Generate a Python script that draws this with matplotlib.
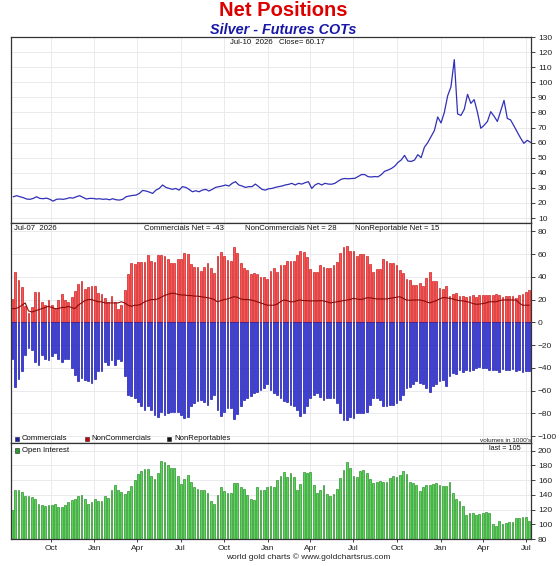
import matplotlib
matplotlib.use('Agg')
import matplotlib.pyplot as plt
import matplotlib.dates as mdates
from matplotlib.patches import Rectangle
import pandas as pd

plt.rcParams['font.family'] = ['Liberation Sans', 'DejaVu Sans']

# ---------------- data ----------------
cot_dates = pd.date_range('2023-07-11', periods=157, freq='7D')
price_dates = pd.date_range('2023-07-14', periods=157, freq='7D')

noncommercials = [
    20.5, 44, 37, 31, 14, 8, 13, 27, 27, 18,
    15, 20, 15, 12, 20, 25, 20, 17.5, 22, 27.5,
    34, 36, 29, 31, 32, 32, 26, 25, 21, 17.5,
    23, 17.5, 12, 15, 28, 42, 52, 51, 53, 53,
    53, 59, 54, 53, 59, 59, 58, 56, 52, 52,
    56, 56, 61, 60, 51, 49, 49, 45, 49, 52.5,
    47.5, 43, 58, 62, 58, 55, 54, 66, 61, 52.5,
    47.5, 46, 42, 43, 42, 40, 40, 38, 45.5, 47.5,
    44.5, 50, 50, 54, 53.5, 54, 59, 63, 61.5, 57,
    47, 44.5, 44.5, 50, 49, 47.5,
    47.5, 50, 53, 61, 66, 67, 63, 63, 58, 60,
    60, 58.5, 51, 44.5, 46.5, 46.5, 56, 54, 52, 52.5,
    50, 46, 43, 38, 37, 33, 33, 34.5, 32, 39,
    44.5, 36, 36, 30.5, 29, 32, 23.5, 24.6, 25.5, 23.5,
    23.5, 22.5, 23, 24, 22.5, 24, 24, 24, 24, 24,
    25, 24, 22.5, 23.5, 23, 23.5, 21.7, 24, 24.6, 27,
    28]

commercials = [
    -32, -57, -50, -43, -29, -23, -24, -35, -37.5, -29,
    -32, -33, -30, -27, -32, -35, -32, -32, -40, -46,
    -52, -49, -51, -52, -53, -50, -43, -43, -35, -37.5,
    -33, -37.5, -32, -34, -47, -64, -64.5, -67, -70, -74,
    -77, -74, -77, -81.5, -83, -78.5, -81.5, -80, -78.5, -78.5,
    -78.5, -81.5, -84.5, -83, -74, -71, -69, -68, -70, -73,
    -67.5, -64, -77, -82, -78.5, -75, -75, -85, -81, -74,
    -68, -67, -64.5, -62.5, -61, -59.5, -57.5, -54.5, -59.5, -62.5,
    -64, -67, -69, -70, -73, -74, -77, -82, -80, -74,
    -67, -64, -62.5, -65.5, -68, -67,
    -67, -67, -71, -80, -86, -86, -83, -84.5, -80, -80,
    -80, -78.5, -73, -67, -67, -68, -74, -73.6, -73, -73,
    -71, -68, -64, -58, -56.6, -54.5, -52, -53, -54.5, -58,
    -61, -55.7, -54.5, -52, -50.7, -56, -47, -45, -45.7, -42,
    -43.4, -42, -42.8, -42, -40.5, -39, -40.5, -40, -42, -42,
    -42, -43.4, -41, -42, -42, -41, -42.5, -42, -43.4, -42.5,
    -43]

nonreportables = [
    12, 12, 13, 15, 17, 10, 9, 10, 11, 12,
    13, 14, 13, 12, 12, 13, 13, 14, 13, 12,
    15, 17, 19, 20, 20, 19, 18, 18, 17, 17,
    17, 17, 17, 18, 17, 15, 14, 15, 15, 16,
    18, 19, 20, 20, 20.5, 22, 23.5, 24.5, 25.5, 25.5,
    24.5, 24, 24, 23.5, 23.5, 23, 23, 22.5, 22, 21.5,
    21, 20, 18, 19, 20, 20.5, 21.5, 22.5, 22, 20.5,
    20, 20, 19.6, 19, 18, 17, 16, 15, 15, 15,
    16, 18, 19.6, 19, 18, 18, 19, 19.6, 19, 19,
    18.8, 18.8, 18.8, 19, 18.8, 18,
    17, 17.5, 18, 18.5, 19, 19.5, 20, 21, 20.5, 20,
    20.5, 21.5, 21.5, 21, 20.5, 20.5, 20.5, 20.5, 21, 21.5,
    22, 22.5, 21, 19.5, 19.4, 19.5, 19.6, 19.6, 19, 18,
    17, 18, 19, 20.5, 21.7, 21.5, 21, 20.5, 19.6, 19,
    18.8, 18.2, 17.6, 16.5, 15.8, 16, 16.4, 17, 18, 18,
    18, 19, 19.6, 19.6, 19.6, 19.6, 19.6, 17, 15, 15,
    15]

open_interest = [
    120, 147, 147, 144, 138, 138, 137, 134, 128, 126,
    125, 126, 126, 127, 124, 124, 126, 130, 133, 134,
    138, 140, 134, 128, 130, 134, 132, 132, 138, 136,
    146, 153, 147, 144, 141, 145, 152, 160, 168, 173,
    175, 175, 166, 162, 170, 186, 185, 180, 176, 177,
    166, 155, 162, 167, 157, 150, 148, 147, 147, 142,
    131, 128, 140, 150, 145, 143, 142, 156, 156, 151,
    148, 140, 135, 133, 151, 147, 146, 151, 152, 150,
    160, 165, 171, 164, 170, 164, 146, 155, 171, 170,
    171, 154, 143, 147, 153, 141, 138, 141, 148, 163,
    174, 185, 176, 165, 164, 172, 174, 170, 161, 156,
    158, 159, 157, 157, 163, 166, 164, 167, 172, 168,
    158, 156, 153, 145, 150, 154, 153, 155, 156, 153,
    152, 152, 157, 143, 135, 131, 125, 113, 115, 115,
    112, 114, 115, 117, 115, 101, 97, 104, 101, 102,
    103, 103, 108, 109, 110, 110, 105]

price = [
    24.1, 24.8, 24.1, 23.5, 22.6, 22.4, 23, 24.1, 23, 22.8,
    23.2, 22.4, 21.2, 22.4, 22.6, 22.4, 22.8, 23.5, 23.2, 24.1,
    24.8, 23.7, 22.6, 23, 23, 22.6, 22.8, 22.4, 22.6, 22.1,
    22.8, 22.1, 21.9, 22.4, 24.1, 24.6, 25, 25.2, 26.3, 28.3,
    27.9, 27.2, 26.3, 28.5, 29.6, 31.9, 30.3, 29.6, 29, 29.6,
    28.5, 30.8, 30.3, 29, 27.4, 28.1, 27.4, 28.5, 29, 27.9,
    29, 30.3, 30.8, 31.2, 31.9, 31.2, 33, 34.1, 31.9, 31.2,
    30.3, 30.8, 30.8, 32.5, 30.8, 29, 28.5, 29.4, 29.6, 30.3,
    30.8, 31.2, 31.9, 32.3, 33, 31.9, 33, 32.5, 33.4, 34.1,
    29.6, 31.9, 33, 31.9, 33, 32.5,
    32.4, 33, 34.5, 35.8, 36.2, 36, 36.2, 36.3, 37.5, 38.8,
    38.8, 37.4, 37.2, 37.5, 37.3, 38.8, 41, 41.8, 42.8, 44.3,
    46.8, 48.5, 51.5, 47.8, 47.5, 48.4, 52, 50, 57, 60,
    64, 68, 77, 73, 80, 91, 97, 115, 79, 78,
    82, 92, 86, 88.5, 80, 69.5, 71.5, 74, 80.5, 77.5,
    74, 81, 88, 76, 75, 71, 67, 63, 59.5, 61.5,
    60.17]

top_ticks = list(range(10, 131, 10))
mid_ticks = list(range(-100, 81, 20))
bot_ticks = list(range(80, 201, 20))

# ---------------- layout ----------------
W_PX, H_PX = 560, 566
fig = plt.figure(figsize=(W_PX / 100, H_PX / 100), dpi=100)

L = 11 / W_PX
R = 531 / W_PX
def ax_rect(top_px, bot_px):
    return [L, 1 - bot_px / H_PX, R - L, (bot_px - top_px) / H_PX]

ax1 = fig.add_axes(ax_rect(37, 223.3))
ax2 = fig.add_axes(ax_rect(223.3, 443.3))
ax3 = fig.add_axes(ax_rect(443.3, 539))

xmin = pd.Timestamp('2023-07-09')
xmax = pd.Timestamp('2026-07-11')
grid_c = '#e9e9ee'
for ax in (ax1, ax2, ax3):
    ax.set_xlim(xmin, xmax)
    ax.xaxis.set_major_locator(mdates.MonthLocator(bymonth=[1, 4, 7, 10]))
    ax.xaxis.set_major_formatter(mdates.DateFormatter('%b'))
    ax.yaxis.tick_right()
    ax.grid(True, color=grid_c, lw=0.7)
    ax.set_axisbelow(True)
    ax.tick_params(axis='y', labelsize=6, length=3, width=0.6, pad=2, colors='#222')
    ax.tick_params(axis='x', labelsize=6, length=2, width=0.6, pad=2, colors='#222')
    for s in ax.spines.values():
        s.set_color('#333')
        s.set_linewidth(0.9)

ax1.tick_params(axis='x', labelbottom=False, length=0)
ax2.tick_params(axis='x', labelbottom=False, length=0)

# top panel: price
ax1.plot(price_dates, price, color='#3030b8', lw=0.9)
ax1.set_ylim(6.5, 130)
ax1.set_yticks(top_ticks)

# middle panel: net positions
bw = 3.8
ax2.bar(cot_dates, noncommercials, width=bw, color='#ff5252', edgecolor='#c00000', lw=0.4)
ax2.bar(cot_dates, commercials, width=bw, color='#3c3ce8', edgecolor='#000090', lw=0.4)
ax2.plot(cot_dates, nonreportables, color='#8a0a0a', lw=0.8)
ax2.set_ylim(-106.4, 87)
ax2.set_yticks(mid_ticks)

# bottom panel: open interest
ax3.bar(cot_dates, open_interest, width=bw, color='#52d852', edgecolor='#137a13', lw=0.4)
ax3.set_ylim(80, 210)
ax3.set_yticks(bot_ticks)

# ---------------- texts ----------------
def fx(px):
    return px / W_PX
def fy(py):
    return 1 - py / H_PX

fig.text(fx(283), fy(11), 'Net Positions', color='#dd0000', fontsize=14.5,
         fontweight='bold', ha='center', va='center')
fig.text(fx(283), fy(30.5), 'Silver - Futures COTs', color='#1818a8', fontsize=10.4,
         fontweight='bold', style='italic', ha='center', va='center')
fig.text(fx(277), fy(43), 'Jul-10  2026   Close= 60.17', fontsize=5.6,
         ha='center', va='center', color='#111')

fig.text(fx(14), fy(228.5), 'Jul-07  2026', fontsize=5.6, ha='left', va='center', color='#111')
fig.text(fx(144), fy(228.5), 'Commercials Net = -43', fontsize=5.6, ha='left', va='center', color='#111')
fig.text(fx(245), fy(228.5), 'NonCommercials Net = 28', fontsize=5.6, ha='left', va='center', color='#111')
fig.text(fx(355), fy(228.5), 'NonReportable Net = 15', fontsize=5.6, ha='left', va='center', color='#111')

def legend_item(x_px, y_px, color, label):
    fig.patches.append(Rectangle((fx(x_px), fy(y_px + 2.2)), 4.4 / W_PX, 4.4 / H_PX,
                                 transform=fig.transFigure, facecolor=color,
                                 edgecolor='#222', lw=0.4))
    fig.text(fx(x_px + 7), fy(y_px), label, fontsize=5.6, ha='left', va='center', color='#111')

legend_item(14.5, 439, '#1a1ab0', 'Commercials')
legend_item(84.5, 439, '#cc0000', 'NonCommercials')
legend_item(167, 439, '#111111', 'NonReportables')
legend_item(14.5, 450.5, '#2a9a2a', 'Open Interest')

fig.text(fx(531), fy(440.5), "volumes in 1000's", fontsize=4.6, ha='right', va='center', color='#222')
fig.text(fx(521), fy(448), 'last = 105', fontsize=5.2, ha='right', va='center', color='#111')

fig.text(fx(308), fy(557), 'world gold charts \u00a9 www.goldchartsrus.com', fontsize=6,
         ha='center', va='center', color='#222')

fig.savefig('out.png', dpi=100, facecolor='white')
